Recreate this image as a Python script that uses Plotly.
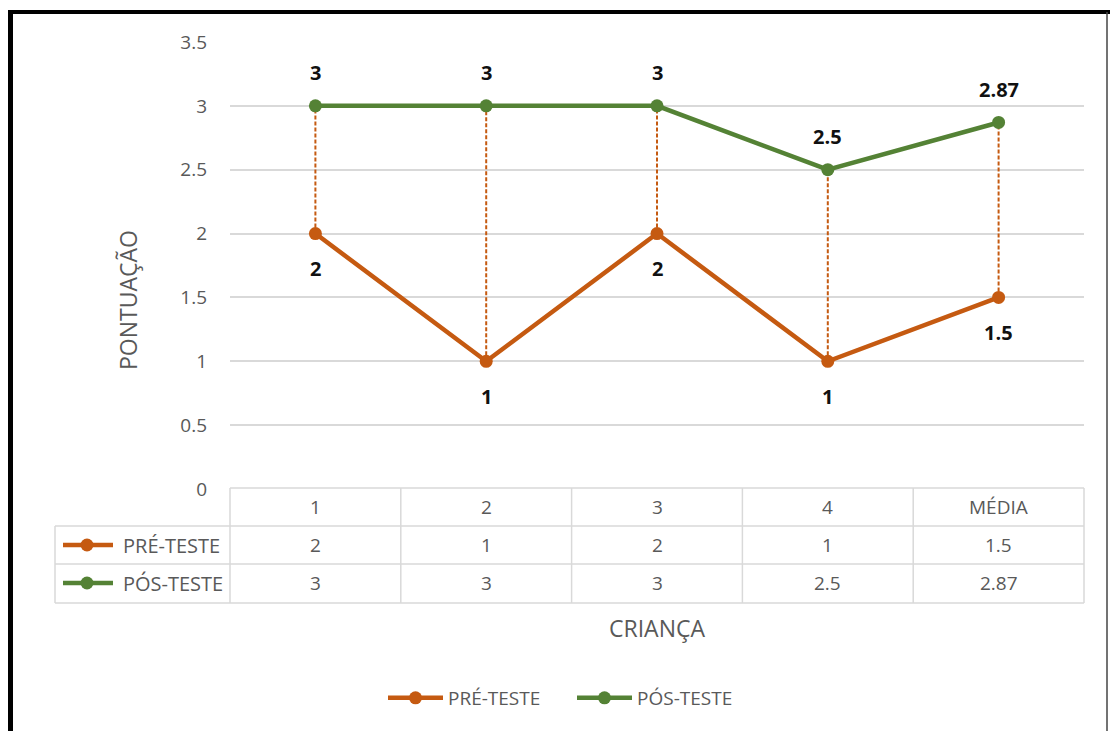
import plotly.graph_objects as go

categories = ["1", "2", "3", "4", "MÉDIA"]
pre_teste = [2, 1, 2, 1, 1.5]
pos_teste = [3, 3, 3, 2.5, 2.87]
series_names = ["PRÉ-TESTE", "PÓS-TESTE"]
y_ticks = [0, 0.5, 1, 1.5, 2, 2.5, 3, 3.5]

ORANGE = "#C55A11"
GREEN = "#548235"
GREY = "#595959"
GRID = "#D9D9D9"
FONT = "Open Sans"

W, H = 1112, 731
L, R, T, B = 230, 28, 42, 242
PW, PH = W - L - R, H - T - B


def px(x):
    return (x - L) / PW


def py(y):
    return (H - B - y) / PH


xs = list(range(len(categories)))
fig = go.Figure()

# dashed drop lines between the two series
dx, dy = [], []
for i in xs:
    dx += [i, i, None]
    dy += [pre_teste[i], pos_teste[i], None]
fig.add_trace(go.Scatter(x=dx, y=dy, mode="lines", showlegend=False, hoverinfo="skip",
                         line=dict(color=ORANGE, width=2, dash="4px,2px")))

fig.add_trace(go.Scatter(x=xs, y=pre_teste, name=series_names[0], mode="lines+markers",
                         line=dict(color=ORANGE, width=4.5), marker=dict(size=13, color=ORANGE)))
fig.add_trace(go.Scatter(x=xs, y=pos_teste, name=series_names[1], mode="lines+markers",
                         line=dict(color=GREEN, width=4.5), marker=dict(size=13, color=GREEN)))

ann = []
for i in xs:
    ann.append(dict(x=i, y=pos_teste[i], xref="x", yref="y", text=f"<b>{pos_teste[i]:g}</b>",
                    showarrow=False, yshift=33, xanchor="center", yanchor="middle",
                    font=dict(family=FONT, size=20, color="#111111")))
    ann.append(dict(x=i, y=pre_teste[i], xref="x", yref="y", text=f"<b>{pre_teste[i]:g}</b>",
                    showarrow=False, yshift=-35, xanchor="center", yanchor="middle",
                    font=dict(family=FONT, size=20, color="#111111")))

# data table text
row_y = [507, 545, 583]
rows = [categories, [f"{v:g}" for v in pre_teste], [f"{v:g}" for v in pos_teste]]
for r, vals in enumerate(rows):
    for i, v in enumerate(vals):
        ann.append(dict(x=(i + 0.5) / len(categories), y=py(row_y[r]), xref="paper", yref="paper",
                        xanchor="center", yanchor="middle",
                        text=v, showarrow=False, font=dict(family=FONT, size=19, color=GREY)))
for r, name in enumerate(series_names):
    ann.append(dict(x=px(121), y=py(row_y[r + 1]), xref="paper", yref="paper", xanchor="left",
                    yanchor="middle",
                    text=name, showarrow=False, font=dict(family=FONT, size=20, color=GREY)))

ann.append(dict(x=px(128), y=py(300), xref="paper", yref="paper", text="PONTUAÇÃO", textangle=-90,
                xanchor="center", yanchor="middle",
                showarrow=False, font=dict(family=FONT, size=23, color=GREY)))
ann.append(dict(x=px(657), y=py(628), xref="paper", yref="paper", text="CRIANÇA",
                xanchor="center", yanchor="middle",
                showarrow=False, font=dict(family=FONT, size=23, color=GREY)))

shapes = []
lc = dict(color=GRID, width=1.5)
n = len(categories)
# horizontal table lines
shapes.append(dict(type="line", xref="paper", yref="paper", x0=0, x1=1, y0=py(488), y1=py(488), line=lc))
for yy in [526, 564, 603]:
    shapes.append(dict(type="line", xref="paper", yref="paper", x0=px(55), x1=1, y0=py(yy), y1=py(yy), line=lc))
# vertical table lines
for i in range(n + 1):
    shapes.append(dict(type="line", xref="paper", yref="paper", x0=i / n, x1=i / n, y0=py(488), y1=py(603), line=lc))
shapes.append(dict(type="line", xref="paper", yref="paper", x0=px(55), x1=px(55), y0=py(526), y1=py(603), line=lc))
# legend keys in table
for r, col in enumerate([ORANGE, GREEN]):
    yy = py(row_y[r + 1])
    shapes.append(dict(type="line", xref="paper", yref="paper", x0=px(63), x1=px(113), y0=yy, y1=yy,
                       line=dict(color=col, width=4.5)))
    shapes.append(dict(type="circle", xref="paper", yref="paper", x0=px(80.5), x1=px(93.5),
                       y0=py(row_y[r + 1] + 6.5), y1=py(row_y[r + 1] - 6.5),
                       fillcolor=col, line=dict(color=col, width=0)))
# black frame
shapes.append(dict(type="line", xref="paper", yref="paper", x0=px(10.5), x1=px(10.5), y0=py(10), y1=py(740),
                   line=dict(color="black", width=5)))
shapes.append(dict(type="line", xref="paper", yref="paper", x0=px(8), x1=px(1110), y0=py(12), y1=py(12),
                   line=dict(color="black", width=4)))
shapes.append(dict(type="line", xref="paper", yref="paper", x0=px(1107), x1=px(1107), y0=py(12), y1=py(740),
                   line=dict(color="#444444", width=1.5)))

fig.update_layout(
    width=W, height=H, margin=dict(l=L, r=R, t=T, b=B),
    paper_bgcolor="white", plot_bgcolor="white",
    font=dict(family=FONT, color=GREY, size=19),
    xaxis=dict(range=[-0.5, n - 0.5], showticklabels=False, showgrid=False, zeroline=False, ticks=""),
    yaxis=dict(range=[0, 3.5], tickvals=y_ticks, ticktext=[f"{v:g}" for v in y_ticks],
               showgrid=True, gridcolor=GRID, gridwidth=1.5, zeroline=False, ticks="",
               ticklabelstandoff=22, tickfont=dict(family=FONT, size=19, color=GREY)),
    showlegend=True,
    legend=dict(orientation="h", x=px(572), xanchor="center", y=py(698), yanchor="middle",
                font=dict(family=FONT, size=19, color=GREY), itemwidth=55,
                entrywidth=119, entrywidthmode="pixels"),
    annotations=ann, shapes=shapes,
)
fig.write_html("out.html")
